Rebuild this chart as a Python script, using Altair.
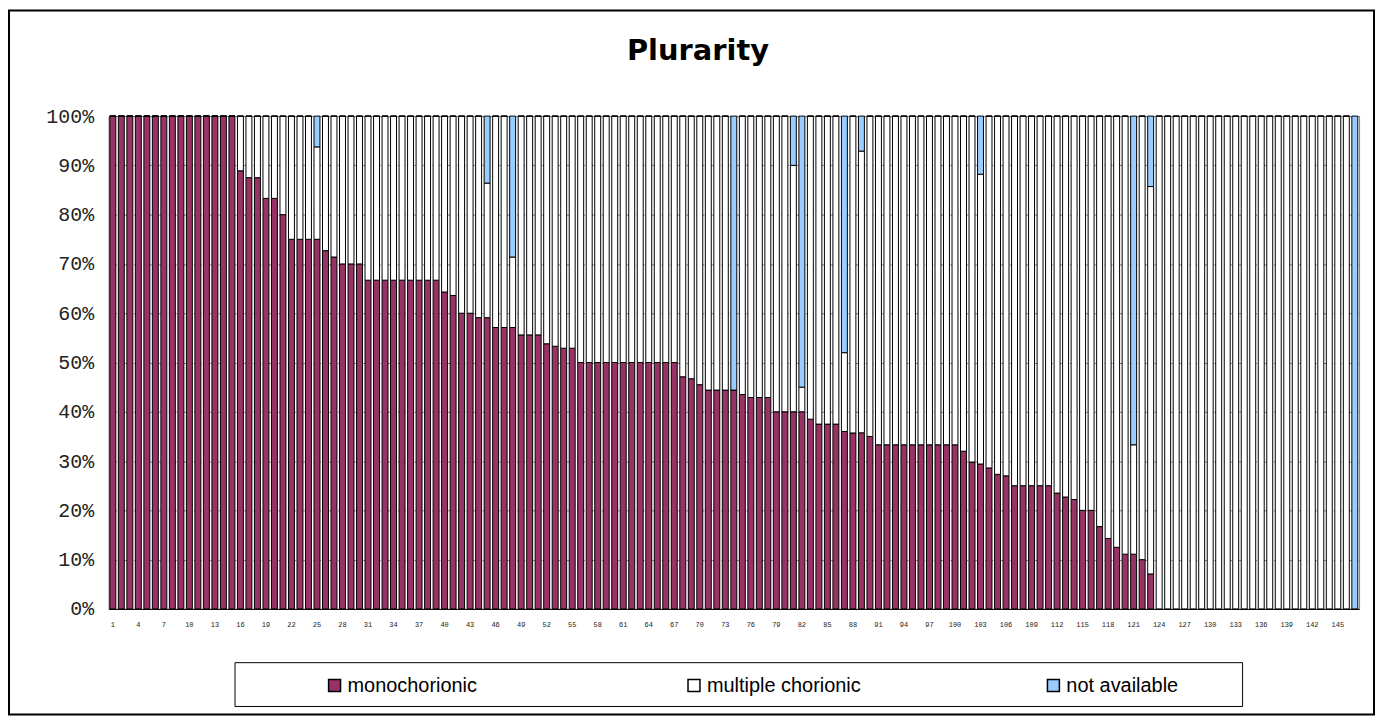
import altair as alt
import pandas as pd

categories = ["monochorionic", "multiple chorionic", "not available"]
colors = ["#993366", "#FFFFFF", "#99CCFF"]

bars_id = list(range(1, 148))

mono = [
    100, 100, 100, 100, 100, 100, 100, 100, 100, 100, 100, 100, 100, 100, 100,
    88.9, 87.5, 87.5, 83.3, 83.3, 80, 75, 75, 75, 75, 72.7, 71.4, 70, 70, 70,
    66.7, 66.7, 66.7, 66.7, 66.7, 66.7, 66.7, 66.7, 66.7, 64.3, 63.6, 60, 60,
    59.1, 59.1, 57.1, 57.1, 57.1, 55.6, 55.6, 55.6, 53.8, 53.3, 52.9, 52.9,
    50, 50, 50, 50, 50, 50, 50, 50, 50, 50, 50, 50,
    47.1, 46.7, 45.5, 44.4, 44.4, 44.4, 44.4, 43.5, 42.9, 42.9, 42.9,
    40, 40, 40, 40, 38.5, 37.5, 37.5, 37.5, 36, 35.7, 35.7, 35,
    33.3, 33.3, 33.3, 33.3, 33.3, 33.3, 33.3, 33.3, 33.3, 33.3,
    32, 29.8, 29.4, 28.6, 27.3, 27, 25, 25, 25, 25, 25, 23.5, 22.7, 22.2,
    20, 20, 16.7, 14.3, 12.5, 11.1, 11.1, 10, 7.1,
    0, 0, 0, 0, 0, 0, 0, 0, 0, 0, 0, 0, 0, 0, 0, 0, 0, 0, 0, 0, 0, 0, 0, 0,
]

multi = [
    0, 0, 0, 0, 0, 0, 0, 0, 0, 0, 0, 0, 0, 0, 0,
    11.1, 12.5, 12.5, 16.7, 16.7, 20, 25, 25, 25, 18.75, 27.3, 28.6, 30, 30, 30,
    33.3, 33.3, 33.3, 33.3, 33.3, 33.3, 33.3, 33.3, 33.3, 35.7, 36.4, 40, 40,
    40.9, 27.3, 42.9, 42.9, 14.3, 44.4, 44.4, 44.4, 46.2, 46.7, 47.1, 47.1,
    50, 50, 50, 50, 50, 50, 50, 50, 50, 50, 50, 50,
    52.9, 53.3, 54.5, 55.6, 55.6, 55.6, 0, 56.5, 57.1, 57.1, 57.1,
    60, 60, 50, 5, 61.5, 62.5, 62.5, 62.5, 16, 64.3, 57.1, 65,
    66.7, 66.7, 66.7, 66.7, 66.7, 66.7, 66.7, 66.7, 66.7, 66.7,
    68, 70.2, 58.8, 71.4, 72.7, 73, 75, 75, 75, 75, 75, 76.5, 77.3, 77.8,
    80, 80, 83.3, 85.7, 87.5, 88.9, 22.2, 90, 78.6,
    100, 100, 100, 100, 100, 100, 100, 100, 100, 100, 100, 100,
    100, 100, 100, 100, 100, 100, 100, 100, 100, 100, 100, 0,
]

na = [
    0, 0, 0, 0, 0, 0, 0, 0, 0, 0, 0, 0, 0, 0, 0,
    0, 0, 0, 0, 0, 0, 0, 0, 0, 6.25, 0, 0, 0, 0, 0,
    0, 0, 0, 0, 0, 0, 0, 0, 0, 0, 0, 0, 0,
    0, 13.6, 0, 0, 28.6, 0, 0, 0, 0, 0, 0, 0,
    0, 0, 0, 0, 0, 0, 0, 0, 0, 0, 0, 0,
    0, 0, 0, 0, 0, 0, 55.6, 0, 0, 0, 0,
    0, 0, 10, 55, 0, 0, 0, 0, 48, 0, 7.1, 0,
    0, 0, 0, 0, 0, 0, 0, 0, 0, 0,
    0, 0, 11.8, 0, 0, 0, 0, 0, 0, 0, 0, 0, 0, 0,
    0, 0, 0, 0, 0, 0, 66.7, 0, 14.3,
    0, 0, 0, 0, 0, 0, 0, 0, 0, 0, 0, 0,
    0, 0, 0, 0, 0, 0, 0, 0, 0, 0, 0, 100,
]

x_tick_values = [1, 4, 7, 10, 13, 16, 19, 22, 25, 28, 31, 34, 37, 40, 43, 46,
                 49, 52, 55, 58, 61, 64, 67, 70, 73, 76, 79, 82, 85, 88, 91,
                 94, 97, 100, 103, 106, 109, 112, 115, 118, 121, 124, 127,
                 130, 133, 136, 139, 142, 145]
y_tick_values = [0, 0.1, 0.2, 0.3, 0.4, 0.5, 0.6, 0.7, 0.8, 0.9, 1.0]

rows = []
for i, b in enumerate(bars_id):
    for k, (cat, series) in enumerate(zip(categories, [mono, multi, na])):
        rows.append({"bar": b, "category": cat, "ord": k, "value": series[i]})
df = pd.DataFrame(rows)

W, H = 1256, 495

bars = alt.Chart(df).mark_bar(stroke="black", strokeWidth=1, opacity=1).encode(
    x=alt.X(
        "bar:O",
        scale=alt.Scale(paddingInner=0.3, paddingOuter=0.15),
        axis=alt.Axis(
            values=x_tick_values, labelAngle=0, ticks=False, domain=True,
            domainColor="black", domainWidth=1, labelFont="Liberation Mono",
            labelFontSize=7, labelColor="#222222", labelPadding=12, title=None,
            grid=False,
        ),
    ),
    y=alt.Y(
        "value:Q", stack="normalize", scale=alt.Scale(domain=[0, 1]),
        axis=alt.Axis(
            values=y_tick_values, format=".0%", ticks=False, domain=False,
            labelFont="Liberation Mono", labelFontSize=20, labelColor="#222222",
            labelPadding=15, title=None, grid=True, gridColor="#808080",
            gridDash=[3, 2], gridWidth=1,
        ),
    ),
    color=alt.Color(
        "category:N",
        scale=alt.Scale(domain=categories, range=colors),
        legend=alt.Legend(
            title=None, orient="none", legendX=217, legendY=562,
            direction="horizontal", columns=3, gridAlign="all",
            columnPadding=183, symbolType="square", symbolSize=144,
            symbolStrokeColor="black", symbolStrokeWidth=1.5,
            symbolOpacity=1, labelFont="Liberation Sans", labelFontSize=20,
            labelColor="black", labelOffset=3, labelLimit=400, padding=0,
        ),
    ),
    order=alt.Order("ord:Q", sort="ascending"),
)

frame_df = pd.DataFrame({"k": [0]})
outer = alt.Chart(frame_df).mark_rect(
    fill="white", fillOpacity=0, stroke="black", strokeWidth=2
).encode(
    x=alt.value(-100), x2=alt.value(1271), y=alt.value(-106), y2=alt.value(601)
)
legbox = alt.Chart(frame_df).mark_rect(
    fill="white", fillOpacity=0, stroke="black", strokeWidth=1
).encode(
    x=alt.value(127), x2=alt.value(1139), y=alt.value(549), y2=alt.value(593)
)

chart = alt.layer(outer, legbox, bars).properties(
    width=W, height=H, padding=0,
    title=alt.TitleParams(
        "Plurarity", font="DejaVu Sans", fontSize=29, fontWeight="bold",
        color="black", anchor="middle", dx=-36, offset=-57,
    ),
    background="white",
).configure_view(stroke="#808080", strokeWidth=1)

chart.save("out.html", embed_options={"renderer": "svg", "actions": False})
